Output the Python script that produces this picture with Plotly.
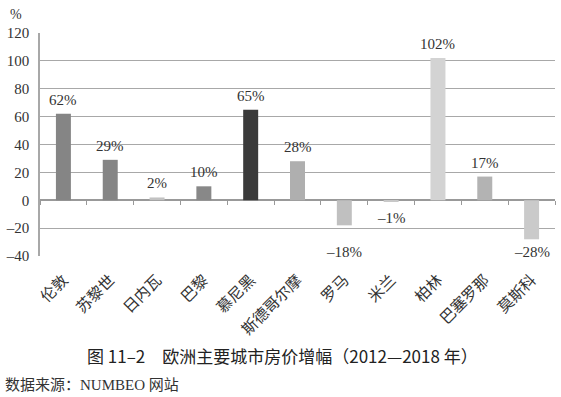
import plotly.graph_objects as go

cities = ["伦敦", "苏黎世", "日内瓦", "巴黎", "慕尼黑", "斯德哥尔摩", "罗马", "米兰", "柏林", "巴塞罗那", "莫斯科"]
growth = [62, 29, 2, 10, 65, 28, -18, -1, 102, 17, -28]
labels = ["62%", "29%", "2%", "10%", "65%", "28%", "–18%", "–1%", "102%", "17%", "–28%"]
bar_colors = ["#858585", "#858585", "#c2c2c2", "#888888", "#3a3a3a", "#afafaf",
              "#c0c0c0", "#c8c8c8", "#d3d3d3", "#b3b3b3", "#cacaca"]
label_shift = [4, 4, 4, 4, 4, 4, -17, -6, 4, 4, -3]
y_ticks = [-40, -20, 0, 20, 40, 60, 80, 100, 120]
y_ticktext = ["–40", "–20", "0", "20", "40", "60", "80", "100", "120"]

serif = "Liberation Serif, Times New Roman, Noto Sans CJK SC, serif"
cjk = "Noto Sans CJK SC, sans-serif"

fig = go.Figure()
fig.add_trace(go.Bar(x=cities, y=growth, marker=dict(color=bar_colors, line=dict(width=0)),
                     width=0.32, hoverinfo="skip"))
# invisible trace on helper axis drawing tick marks on the zero line
fig.add_trace(go.Bar(x=cities, y=growth, xaxis="x2", opacity=0, hoverinfo="skip", showlegend=False))

for c, v, t, s in zip(cities, growth, labels, label_shift):
    fig.add_annotation(x=c, y=v, text=t, showarrow=False,
                       yanchor="bottom" if v >= 0 else "top", yshift=s,
                       font=dict(family=serif, size=15, color="#333"))

fig.add_annotation(xref="paper", yref="paper", x=-0.062, y=1.085, yanchor="middle",
                   text="%", showarrow=False,
                   font=dict(family=serif, size=14, color="#333"))
fig.add_annotation(xref="paper", yref="paper", x=0.47, y=-0.444, yanchor="middle",
                   text="图 11–2　欧洲主要城市房价增幅（2012—2018 年）", showarrow=False,
                   font=dict(family=cjk, size=17, color="#222"))
fig.add_annotation(xref="paper", yref="paper", x=-0.072, y=-0.578, xanchor="left", yanchor="middle",
                   text="数据来源：NUMBEO 网站", showarrow=False,
                   font=dict(family=serif, size=15, color="#333"))

fig.update_layout(
    width=561, height=397,
    margin=dict(l=37, r=6, t=33, b=141),
    paper_bgcolor="white", plot_bgcolor="white",
    showlegend=False, bargap=0.68,
    xaxis=dict(type="category", categoryarray=cities, range=[-0.5, 10.5],
               tickangle=-45, tickfont=dict(family=cjk, size=15.5, color="#333"),
               showgrid=False, zeroline=False, showline=False, ticks="",
               ticklabelstandoff=11),
    xaxis2=dict(type="category", categoryarray=cities, range=[-0.5, 10.5],
                overlaying="x", anchor="free", position=0.25, side="bottom",
                showticklabels=False, ticks="outside", tickson="boundaries",
                ticklen=4, tickcolor="#999", tickwidth=1.2,
                showline=False, showgrid=False, zeroline=False),
    yaxis=dict(range=[-40, 120], tickvals=y_ticks, ticktext=y_ticktext,
               tickfont=dict(family=serif, size=15, color="#333"),
               showgrid=True, gridcolor="#a8a8a8", gridwidth=1.3,
               zeroline=True, zerolinecolor="#999", zerolinewidth=1.5,
               showline=True, linecolor="#a8a8a8", linewidth=1.5,
               ticks="", ticklabelstandoff=6),
)

fig.write_html("out.html", config={"displayModeBar": False},
               post_script="document.body.style.margin='0';")
